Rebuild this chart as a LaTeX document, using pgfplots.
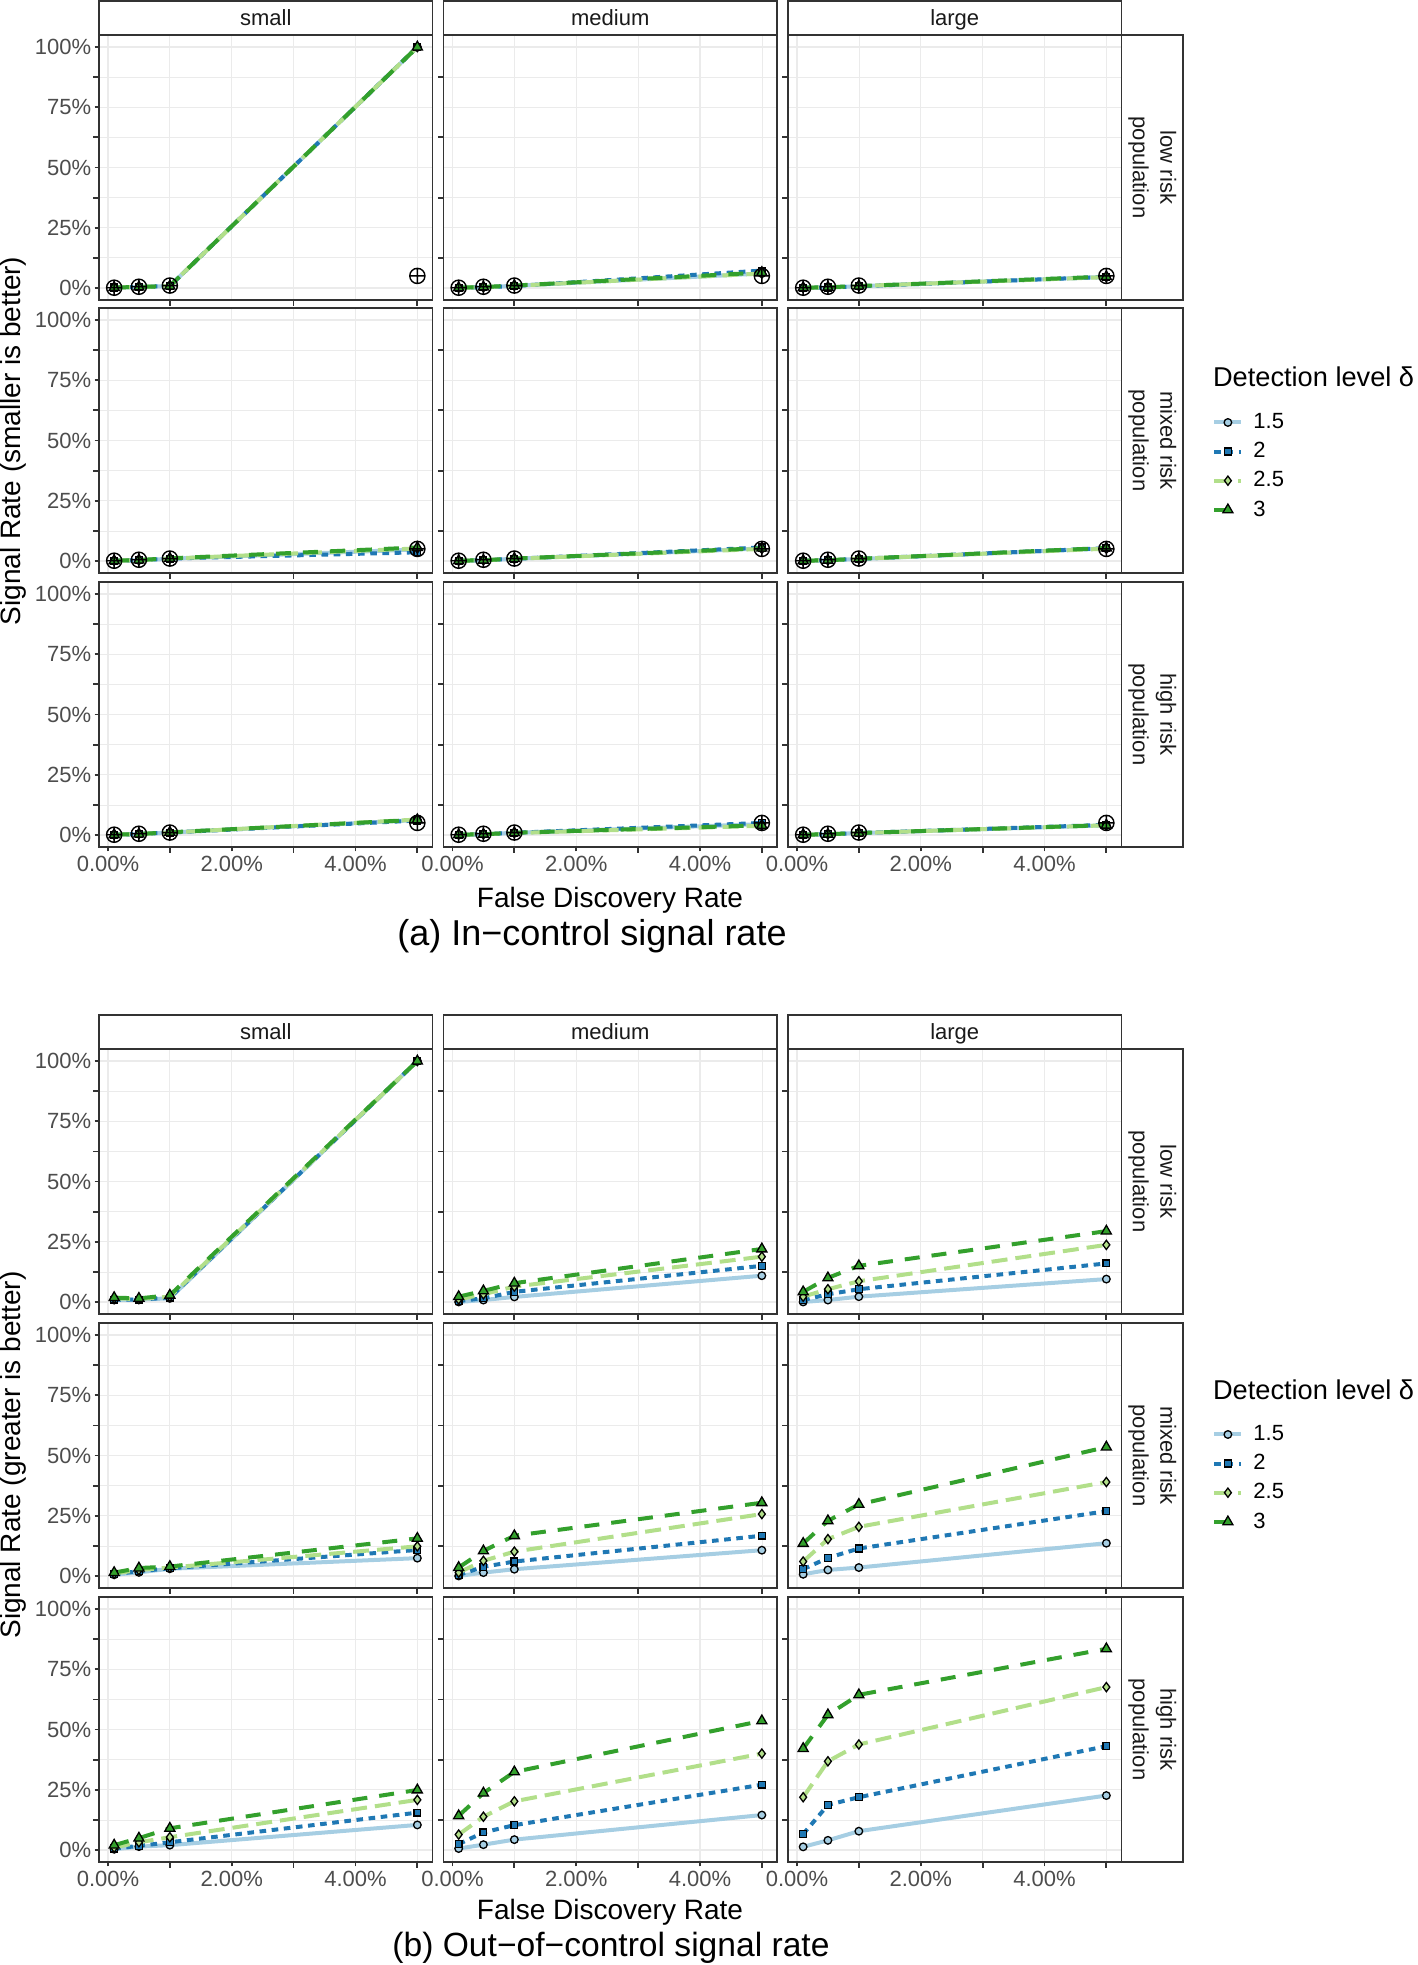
\documentclass[border=0pt]{standalone}
\usepackage{pgfplots}
\pgfplotsset{compat=1.18}
\usepackage{pgfplotstable}
\usepackage{fontspec}
\setmainfont{Liberation Sans}
\definecolor{c15}{HTML}{A6CEE3}
\definecolor{c2}{HTML}{1F78B4}
\definecolor{c25}{HTML}{B2DF8A}
\definecolor{c3}{HTML}{33A02C}
\definecolor{grey20}{HTML}{333333}
\definecolor{grey30}{HTML}{4D4D4D}
\definecolor{grey92}{HTML}{EBEBEB}
\definecolor{grey10}{HTML}{1A1A1A}

% ---------- data: x = FDR (%), a = 1.5, b = 2, c = 2.5, d = 3 ----------
\pgfplotstableread{
x r
0.1 0.001
0.5 0.005
1 0.010
5 0.050
}\tref
% (a) in-control
\pgfplotstableread{
x a b c d
0.1 0.002 0.002 0.002 0.002
0.5 0.004 0.004 0.004 0.004
1 0.008 0.008 0.008 0.008
5 1.000 1.000 1.000 1.000
}\taAA
\pgfplotstableread{
x a b c d
0.1 0.001 0.001 0.001 0.001
0.5 0.003 0.003 0.003 0.004
1 0.009 0.008 0.009 0.010
5 0.060 0.072 0.060 0.064
}\taAB
\pgfplotstableread{
x a b c d
0.1 0.001 0.001 0.001 0.001
0.5 0.002 0.002 0.002 0.003
1 0.007 0.007 0.008 0.008
5 0.046 0.046 0.045 0.047
}\taAC
\pgfplotstableread{
x a b c d
0.1 0.001 0.001 0.001 0.001
0.5 0.003 0.003 0.003 0.004
1 0.009 0.010 0.010 0.011
5 0.048 0.036 0.052 0.056
}\taBA
\pgfplotstableread{
x a b c d
0.1 0.001 0.001 0.001 0.001
0.5 0.003 0.003 0.003 0.003
1 0.009 0.009 0.009 0.010
5 0.052 0.056 0.050 0.053
}\taBB
\pgfplotstableread{
x a b c d
0.1 0.001 0.001 0.001 0.001
0.5 0.003 0.003 0.003 0.003
1 0.008 0.009 0.009 0.009
5 0.052 0.053 0.051 0.054
}\taBC
\pgfplotstableread{
x a b c d
0.1 0.001 0.001 0.001 0.001
0.5 0.004 0.004 0.004 0.004
1 0.010 0.010 0.010 0.011
5 0.062 0.060 0.064 0.063
}\taCA
\pgfplotstableread{
x a b c d
0.1 0.001 0.001 0.001 0.001
0.5 0.003 0.003 0.003 0.003
1 0.009 0.009 0.008 0.009
5 0.045 0.050 0.038 0.040
}\taCB
\pgfplotstableread{
x a b c d
0.1 0.001 0.001 0.001 0.001
0.5 0.003 0.003 0.003 0.003
1 0.008 0.008 0.008 0.008
5 0.040 0.042 0.040 0.041
}\taCC
% (b) out-of-control
\pgfplotstableread{
x a b c d
0.1 0.008 0.010 0.015 0.018
0.5 0.010 0.010 0.012 0.015
1 0.015 0.018 0.022 0.028
5 1.000 1.000 1.000 1.000
}\tbAA
\pgfplotstableread{
x a b c d
0.1 0.000 0.004 0.011 0.022
0.5 0.008 0.015 0.032 0.046
1 0.021 0.042 0.064 0.078
5 0.109 0.150 0.188 0.220
}\tbAB
\pgfplotstableread{
x a b c d
0.1 0.000 0.008 0.022 0.042
0.5 0.008 0.032 0.053 0.100
1 0.022 0.053 0.086 0.150
5 0.095 0.160 0.237 0.294
}\tbAC
\pgfplotstableread{
x a b c d
0.1 0.005 0.007 0.010 0.014
0.5 0.015 0.020 0.025 0.033
1 0.030 0.032 0.035 0.039
5 0.074 0.108 0.123 0.156
}\tbBA
\pgfplotstableread{
x a b c d
0.1 0.000 0.004 0.014 0.035
0.5 0.014 0.038 0.063 0.104
1 0.028 0.060 0.101 0.167
5 0.107 0.167 0.257 0.304
}\tbBB
\pgfplotstableread{
x a b c d
0.1 0.007 0.028 0.060 0.135
0.5 0.025 0.075 0.153 0.229
1 0.035 0.114 0.204 0.297
5 0.136 0.269 0.390 0.535
}\tbBC
\pgfplotstableread{
x a b c d
0.1 0.003 0.006 0.010 0.020
0.5 0.014 0.017 0.032 0.049
1 0.020 0.032 0.053 0.090
5 0.104 0.155 0.208 0.249
}\tbCA
\pgfplotstableread{
x a b c d
0.1 0.006 0.024 0.064 0.142
0.5 0.022 0.073 0.138 0.236
1 0.043 0.103 0.202 0.324
5 0.145 0.271 0.400 0.536
}\tbCB
\pgfplotstableread{
x a b c d
0.1 0.013 0.066 0.219 0.421
0.5 0.040 0.187 0.368 0.561
1 0.078 0.219 0.438 0.644
5 0.226 0.431 0.676 0.835
}\tbCC

\pgfplotsset{
  facet/.style={scale only axis, width=166.75pt, height=132.5pt, anchor=north west,
    xmin=-0.145, xmax=5.245, ymin=-0.05, ymax=1.05,
    xtick={0,2,4}, minor xtick={1,3,5},
    ytick={0,0.25,0.5,0.75,1}, minor ytick={0.125,0.375,0.625,0.875},
    grid=both,
    major grid style={grey92, line width=0.7pt},
    minor grid style={grey92, line width=0.35pt},
    axis line style={grey20, line width=0.9pt},
    tick style={grey20, line width=0.9pt},
    major tick length=2.2pt, tick align=outside,
    xminorticks=false, yminorticks=false,
    xmajorticks=false, ymajorticks=false,
    xtick pos=bottom, ytick pos=left,
    xticklabels={}, yticklabels={},
    ticklabel style={font=\fontsize{11}{13}\selectfont, text=grey30},
    yticklabel style={inner sep=1.5pt},
    xticklabel style={inner sep=1.5pt, yshift=-0.8pt},
    /pgf/number format/assume math mode=true,
  },
  ylab/.style={ymajorticks=true, yticklabels={0\%,25\%,50\%,75\%,100\%}},
  xlab/.style={xmajorticks=true, xticklabels={0.00\%,2.00\%,4.00\%}},
  l15/.style={c15, line width=2pt, solid, no markers},
  l2/.style={c2, line width=2pt, dash pattern=on 3.3pt off 2.8pt, no markers},
  l25/.style={c25, line width=2pt, dash pattern=on 8pt off 4pt, no markers},
  l3/.style={c3, line width=2pt, dash pattern=on 7.5pt off 6pt, no markers},
  m15/.style={only marks, mark=*, mark size=1.9pt, mark options={solid, fill=c15, draw=black, line width=0.65pt}},
  m2/.style={only marks, mark=square*, mark size=1.7pt, mark options={solid, fill=c2, draw=black, line width=0.65pt}},
  m25/.style={only marks, mark=diamond*, mark size=2.3pt, mark options={solid, fill=c25, draw=black, line width=0.65pt}},
  m3/.style={only marks, mark=triangle*, mark size=2.9pt, mark options={solid, fill=c3, draw=black, line width=0.65pt}},
  refm/.style={only marks, black, mark=oplus, mark size=3.8pt, mark options={solid, draw=black, line width=0.7pt}},
  g15/.style={c15, line width=2pt, solid, mark=*, mark size=1.9pt, mark options={solid, fill=c15, draw=black, line width=0.65pt}},
  g2/.style={c2, line width=2pt, dash pattern=on 3.3pt off 2.8pt, mark=square*, mark size=1.7pt, mark options={solid, fill=c2, draw=black, line width=0.65pt}},
  g25/.style={c25, line width=2pt, dash pattern=on 8pt off 4pt, mark=diamond*, mark size=2.3pt, mark options={solid, fill=c25, draw=black, line width=0.65pt}},
  g3/.style={c3, line width=2pt, dash pattern=on 7.5pt off 6pt, mark=triangle*, mark size=2.9pt, mark options={solid, fill=c3, draw=black, line width=0.65pt}},
  legax/.style={scale only axis, width=1pt, height=1pt, anchor=north west, hide axis,
    xmin=0, xmax=1, ymin=0, ymax=1,
    legend cell align=left,
    legend style={at={(0,1)}, anchor=north west, draw=none, fill=none, inner sep=0pt,
      row sep=2.4pt, column sep=3.5pt, font=\fontsize{11}{13}\selectfont, nodes={inner sep=1.5pt}},
    legend image code/.code={\draw[mark repeat=2, mark phase=2, ##1] plot coordinates {(0pt,0pt) (6.75pt,0pt) (13.5pt,0pt)};},
  },
}

% #1 x, #2 y, #3 table, #4 options, #5 extra plots
\newcommand{\facet}[5]{%
\begin{axis}[facet, at={(#1,#2)}, #4]
\addplot[l15] table[x=x,y=a]{#3};
\addplot[l2] table[x=x,y=b]{#3};
\addplot[l25] table[x=x,y=c]{#3};
\addplot[l3] table[x=x,y=d]{#3};
\addplot[m15] table[x=x,y=a]{#3};
\addplot[m2] table[x=x,y=b]{#3};
\addplot[m25] table[x=x,y=c]{#3};
\addplot[m3] table[x=x,y=d]{#3};
#5
\end{axis}}
\newcommand{\refplot}{\addplot[refm] table[x=x,y=r]{\tref};}

\newcommand{\topstrip}[3]{% x, ytop-of-panel, text
  \draw[grey20, line width=0.9pt, fill=white] (#1,#2) rectangle ++(166.75pt,17pt);
  \node[font=\fontsize{11}{13}\selectfont, text=grey10, anchor=base, inner sep=0pt] at ([xshift=83.375pt, yshift=4.7pt]#1,#2) {#3};}
\newcommand{\sidestrip}[2]{% ytop, text
  \draw[grey20, line width=0.9pt, fill=white] (560.75pt,#1) rectangle ++(30.75pt,-132.5pt);
  \node[font=\fontsize{11}{13.8}\selectfont, text=grey10, rotate=-90, align=center] at ([xshift=15.4pt, yshift=-66.25pt]560.75pt,#1) {#2};}

\begin{document}
\begin{tikzpicture}
\path[use as bounding box] (0,0) rectangle (709pt,-982.5pt);

% ================= (a) =================
\facet{49.5pt}{-17.5pt}{\taAA}{ylab}{\refplot}
\facet{221.75pt}{-17.5pt}{\taAB}{}{\refplot}
\facet{394pt}{-17.5pt}{\taAC}{}{\refplot}
\facet{49.5pt}{-154pt}{\taBA}{ylab}{\refplot}
\facet{221.75pt}{-154pt}{\taBB}{}{\refplot}
\facet{394pt}{-154pt}{\taBC}{}{\refplot}
\facet{49.5pt}{-291pt}{\taCA}{ylab,xlab}{\refplot}
\facet{221.75pt}{-291pt}{\taCB}{xlab}{\refplot}
\facet{394pt}{-291pt}{\taCC}{xlab}{\refplot}

\topstrip{49.5pt}{-17.5pt}{small}
\topstrip{221.75pt}{-17.5pt}{medium}
\topstrip{394pt}{-17.5pt}{large}
\sidestrip{-17.5pt}{low risk\\population}
\sidestrip{-154pt}{mixed risk\\population}
\sidestrip{-291pt}{high risk\\population}

\node[rotate=90, font=\fontsize{14}{16}\selectfont] at (6.5pt,-220.5pt) {Signal Rate (smaller is better)};
\node[font=\fontsize{14}{16}\selectfont] at (305pt,-450.3pt) {False Discovery Rate};
\node[font=\fontsize{18}{20}\selectfont] at (296pt,-468.3pt) {(a) In−control signal rate};

\node[anchor=west, font=\fontsize{13.6}{16}\selectfont] at (603pt,-188.5pt) {Detection level δ};
\begin{axis}[legax, at={(606pt,-205pt)}]
\addlegendimage{g15}\addlegendentry{1.5}
\addlegendimage{g2}\addlegendentry{2}
\addlegendimage{g25}\addlegendentry{2.5}
\addlegendimage{g3}\addlegendentry{3}
\end{axis}

% ================= (b) =================
\facet{49.5pt}{-524.5pt}{\tbAA}{ylab}{}
\facet{221.75pt}{-524.5pt}{\tbAB}{}{}
\facet{394pt}{-524.5pt}{\tbAC}{}{}
\facet{49.5pt}{-661.5pt}{\tbBA}{ylab}{}
\facet{221.75pt}{-661.5pt}{\tbBB}{}{}
\facet{394pt}{-661.5pt}{\tbBC}{}{}
\facet{49.5pt}{-798.5pt}{\tbCA}{ylab,xlab}{}
\facet{221.75pt}{-798.5pt}{\tbCB}{xlab}{}
\facet{394pt}{-798.5pt}{\tbCC}{xlab}{}

\topstrip{49.5pt}{-524.5pt}{small}
\topstrip{221.75pt}{-524.5pt}{medium}
\topstrip{394pt}{-524.5pt}{large}
\sidestrip{-524.5pt}{low risk\\population}
\sidestrip{-661.5pt}{mixed risk\\population}
\sidestrip{-798.5pt}{high risk\\population}

\node[rotate=90, font=\fontsize{14}{16}\selectfont] at (6.5pt,-727.5pt) {Signal Rate (greater is better)};
\node[font=\fontsize{14}{16}\selectfont] at (305pt,-956.3pt) {False Discovery Rate};
\node[font=\fontsize{16.8}{19}\selectfont] at (305.5pt,-974pt) {(b) Out−of−control signal rate};

\node[anchor=west, font=\fontsize{13.6}{16}\selectfont] at (603pt,-695pt) {Detection level δ};
\begin{axis}[legax, at={(606pt,-711pt)}]
\addlegendimage{g15}\addlegendentry{1.5}
\addlegendimage{g2}\addlegendentry{2}
\addlegendimage{g25}\addlegendentry{2.5}
\addlegendimage{g3}\addlegendentry{3}
\end{axis}
\end{tikzpicture}
\end{document}
